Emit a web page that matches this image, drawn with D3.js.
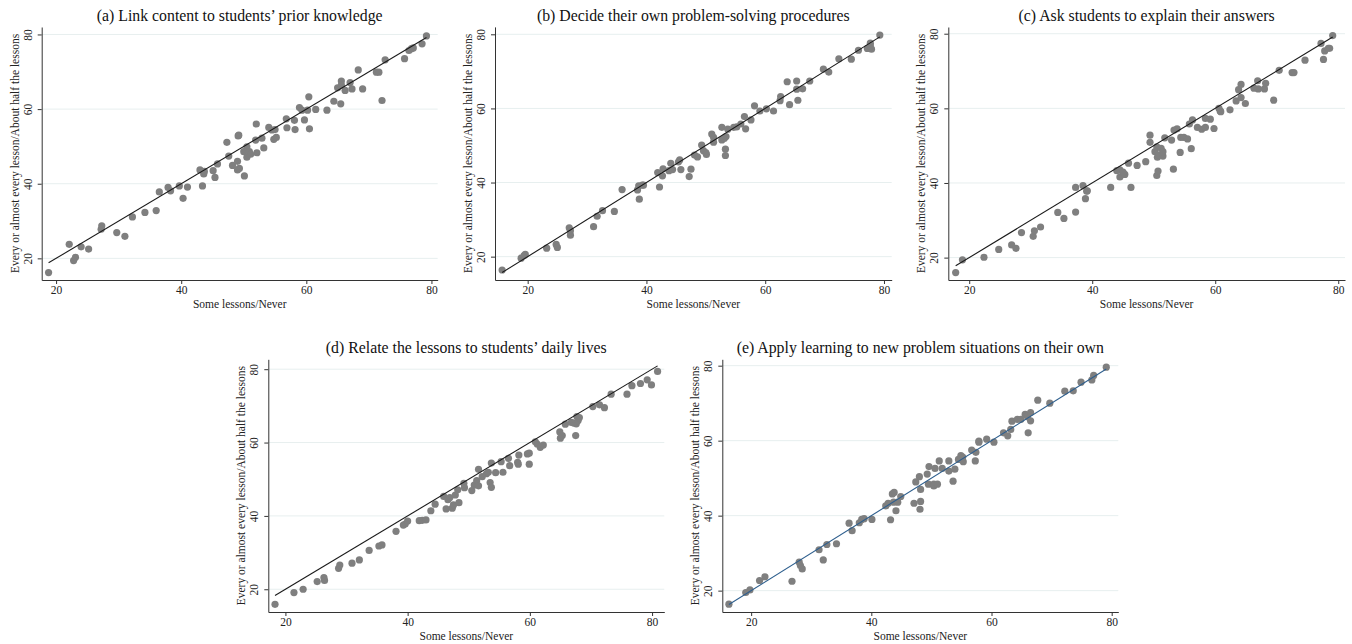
<!DOCTYPE html>
<html>
<head>
<meta charset="utf-8">
<script src="https://cdn.jsdelivr.net/npm/d3@7"></script>
<style>
  body { margin: 0; background: #fff; }
  svg { display: block; font-family: "Liberation Serif", "DejaVu Serif", serif; }
  .tick text { fill: #222; }
</style>
</head>
<body>
<svg id="chart" width="1352" height="644"></svg>
<script>
// panel titles and axis labels
const titles = [
  "(a) Link content to students\u2019 prior knowledge",
  "(b) Decide their own problem-solving procedures",
  "(c) Ask students to explain their answers",
  "(d) Relate the lessons to students\u2019 daily lives",
  "(e) Apply learning to new problem situations on their own"
];
const xLabel = "Some lessons/Never";
const yLabel = "Every or almost every lesson/About half the lessons";
const tickValues = [20, 40, 60, 80];

// (a)
const aX = [18.8,22.1,22.8,23.1,24.0,25.2,27.2,27.3,29.7,31.0,32.2,34.2,36.0,36.5,37.9,38.3,39.7,40.3,41.0,43.0,43.4,43.6,43.7,45.1,45.4,45.8,47.3,47.6,48.2,49.0,49.1,49.2,49.0,49.3,50.0,50.1,50.5,50.5,50.9,51.1,52.0,51.9,52.1,52.9,53.2,54.0,54.5,54.8,55.0,55.2,56.8,56.9,58.1,58.2,58.9,59.3,59.7,60.2,60.4,60.5,61.5,63.3,64.4,65.0,65.5,65.6,65.6,66.2,67.0,67.3,68.3,69.0,71.2,71.6,72.1,72.6,75.7,76.4,76.8,77.1,78.5,79.2];
const aY = [16.2,23.75,19.4,20.3,23.1,22.5,27.8,28.7,26.9,25.9,31.1,32.3,32.8,37.8,39.0,38.1,39.4,36.1,39.1,43.7,39.4,42.6,43.3,43.5,41.7,45.3,51.1,47.4,44.9,46.0,52.8,53.0,43.7,44.1,48.6,42.1,49.9,47.1,48.6,47.9,56.0,51.7,48.3,52.2,49.6,55.1,54.4,51.9,54.5,52.4,57.4,55.0,57.0,54.5,60.4,59.7,57.1,59.7,63.3,54.7,59.9,59.7,62.1,65.7,61.4,67.5,66.4,65.0,67.1,65.4,70.5,65.4,69.9,69.9,62.3,73.2,73.5,75.7,76.2,76.4,77.5,79.6];

// (b)
const bX = [15.7,18.9,19.4,19.6,23.2,24.8,25.0,27.0,27.2,27.2,31.1,31.7,32.6,34.6,35.9,38.5,38.7,39.3,39.5,38.8,41.9,42.2,42.7,42.8,43.8,44.1,44.4,45.4,45.6,45.8,47.2,47.5,48.1,48.6,49.3,49.6,50.0,50.1,51.0,51.3,51.3,52.7,52.7,53.1,53.4,53.3,53.3,53.7,54.7,55.2,55.9,56.5,56.7,57.6,58.2,59.1,60.2,61.4,62.5,62.6,63.7,64.1,65.3,65.3,65.5,66.3,67.5,69.8,70.7,72.4,74.5,75.7,77.2,77.7,77.9,77.7,79.3];
const bY = [16.4,19.6,20.3,20.6,22.3,23.3,22.5,27.8,27.0,25.8,28.1,30.9,32.4,32.2,38.1,38.0,39.1,39.3,39.3,35.5,42.7,38.8,41.8,43.7,43.2,45.2,43.5,45.6,46.1,43.5,41.6,43.6,47.4,46.9,50.1,48.6,48.1,47.6,53.1,52.2,50.9,54.9,51.5,51.9,52.4,49.0,47.3,54.4,54.9,55.0,55.8,57.8,54.5,56.9,60.7,59.3,59.9,59.3,62.1,63.2,67.2,61.0,67.4,65.2,62.2,65.3,67.4,70.6,69.8,73.4,73.3,75.7,76.2,77.6,76.0,76.9,79.8];

// (c)
const cX = [17.8,18.9,22.4,24.8,26.9,27.6,28.5,30.4,30.6,31.6,34.4,35.4,37.3,37.3,38.5,38.9,39.1,39.2,43.0,44.0,44.5,44.5,45.3,45.0,45.9,46.3,47.3,48.7,49.4,49.4,50.2,50.5,50.6,50.8,51.2,51.5,51.5,50.5,50.7,51.8,52.9,53.3,53.8,53.2,54.3,54.4,54.9,55.5,55.8,56.3,56.1,57.1,57.8,58.4,58.4,59.2,59.8,60.6,60.8,60.9,62.4,63.4,63.8,64.2,64.2,64.9,66.3,66.9,67.0,68.0,68.2,69.5,70.4,72.5,72.8,74.6,77.2,77.6,77.8,78.4,78.6,79.1];
const cY = [16.0,19.4,20.1,22.2,23.4,22.5,26.7,25.7,27.2,28.2,32.1,30.5,38.8,32.2,39.3,35.8,37.8,37.9,38.8,43.3,43.5,41.6,42.3,42.9,45.3,38.8,44.7,45.7,52.8,50.9,48.4,49.7,46.9,47.5,49.3,47.2,48.4,42.0,43.2,52.1,51.5,54.2,54.5,43.7,48.2,52.2,52.2,51.8,55.8,56.9,49.2,54.9,54.4,54.9,57.3,57.1,54.6,60.0,59.3,59.1,59.6,62.0,65.0,66.4,62.9,61.3,65.4,67.4,65.2,65.2,66.7,62.2,70.2,69.6,69.6,72.9,77.4,73.1,75.4,76.1,76.1,79.5];

// (d)
const dX = [18.3,21.4,22.9,25.2,26.3,26.4,28.7,28.9,30.9,32.1,33.7,35.3,35.8,38.1,39.3,39.6,40.0,41.9,42.4,43.0,43.8,44.5,45.9,46.3,46.6,46.9,47.3,47.5,47.8,48.2,48.4,49.2,49.3,50.5,50.9,51.3,51.6,51.6,52.2,52.9,53.2,53.5,53.7,53.7,54.4,55.3,55.6,56.5,56.7,58.0,58.1,58.2,59.6,59.9,59.9,60.9,61.2,61.7,62.2,64.9,65.0,65.3,65.8,66.8,67.2,67.5,67.6,67.7,67.9,68.1,70.3,71.4,72.2,73.3,75.9,76.7,78.1,79.2,79.9,80.9];
const dY = [15.9,19.1,20.0,22.1,23.2,22.4,25.7,26.6,27.1,28.0,30.6,31.8,32.1,35.8,37.5,37.8,38.6,38.7,38.8,38.9,41.4,43.2,45.3,41.9,44.4,45.0,42.1,43.0,45.7,47.1,43.6,48.9,47.7,46.9,48.4,49.6,48.2,52.7,50.7,51.5,51.9,49.1,47.8,54.4,51.8,54.8,51.9,55.7,53.7,54.6,54.1,56.6,56.9,57.1,54.1,60.2,59.6,58.7,59.3,62.9,61.2,61.9,65.0,65.5,65.3,61.9,65.1,67.1,66.0,66.8,69.8,70.3,69.5,73.2,73.2,75.5,76.1,77.1,75.7,79.4];

// (e)
const eX = [16.3,19.1,19.8,21.4,22.3,26.8,28.0,28.2,28.5,31.3,32.0,32.6,34.2,36.3,36.8,38.0,38.4,38.8,40.1,42.4,42.8,43.2,43.5,43.8,43.7,44.1,44.4,44.9,47.1,47.4,48.0,48.2,48.2,48.1,49.3,49.6,49.5,50.4,50.4,51.0,50.6,51.3,51.8,52.9,52.9,53.6,53.9,54.5,54.9,55.3,55.2,56.7,57.4,57.3,57.9,57.9,59.2,60.4,62.0,62.7,63.2,63.4,64.3,64.9,65.6,66.0,66.5,66.5,66.1,67.7,69.7,72.2,73.6,74.9,76.7,77.0,79.1];
const eY = [16.4,19.5,20.2,22.7,23.7,22.5,27.6,26.7,25.8,30.9,28.2,32.3,32.5,38.0,36.0,38.1,39.0,39.2,39.0,42.6,43.3,38.9,45.8,46.2,43.6,41.3,43.6,45.1,43.3,49.0,50.4,47.0,43.8,41.7,51.1,53.1,48.4,48.4,47.9,48.4,52.6,54.6,52.6,54.6,51.9,49.2,52.4,55.0,56.0,54.4,55.6,57.5,56.9,54.6,59.9,59.6,60.4,59.6,62.1,61.3,63.0,65.2,65.7,65.7,67.0,66.4,67.5,65.3,62.1,70.8,70.0,73.2,73.3,75.6,76.2,77.4,79.6];

const panelX = [aX, bX, cX, dX, eX];
const panelY = [aY, bY, cY, dY, eY];

// layout of each plot region (pixels) and axis extents
const layout = [
  {x0: 41.7,  x1: 437.7,  y0: 27,    y1: 280, xd: [17.7, 81.0], yd: [14.2, 82.0], tY: 21,  line: "#1a1a1a"},
  {x0: 495,   x1: 891.7,  y0: 26.9,  y1: 280, xd: [14.5, 81.3], yd: [13.7, 82.0], tY: 21,  line: "#1a1a1a"},
  {x0: 948.3, x1: 1345,   y0: 27,    y1: 280, xd: [16.6, 81.1], yd: [14.0, 81.8], tY: 21,  line: "#1a1a1a"},
  {x0: 268.3, x1: 664.3,  y0: 359.3, y1: 612, xd: [17.2, 82.0], yd: [13.8, 82.7], tY: 353, line: "#1a1a1a"},
  {x0: 722.3, x1: 1118.3, y0: 359.3, y1: 612, xd: [15.2, 81.1], yd: [14.3, 81.7], tY: 353, line: "#2e5f8e"}
];

const svg = d3.select("#chart");

layout.forEach(function(p, i){
  const xs = panelX[i], ys = panelY[i];
  const x = d3.scaleLinear().domain(p.xd).range([p.x0, p.x1]);
  const y = d3.scaleLinear().domain(p.yd).range([p.y1, p.y0]);
  const g = svg.append("g");

  // grid lines
  g.selectAll(".grid").data(tickValues).enter().append("line")
    .attr("x1", p.x0).attr("x2", p.x1)
    .attr("y1", d => y(d)).attr("y2", d => y(d))
    .attr("stroke", "#e7efef").attr("stroke-width", 1);

  // axes
  const xAxis = g.append("g").attr("transform", `translate(0,${p.y1})`)
    .call(d3.axisBottom(x).tickValues(tickValues).tickSize(4).tickPadding(2).tickSizeOuter(0));
  const yAxis = g.append("g").attr("transform", `translate(${p.x0},0)`)
    .call(d3.axisLeft(y).tickValues(tickValues).tickSize(4).tickPadding(2).tickSizeOuter(0));
  [xAxis, yAxis].forEach(function(ax){
    ax.select(".domain").attr("stroke", "#333");
    ax.selectAll(".tick line").attr("stroke", "#333");
    ax.selectAll(".tick text").attr("font-size", 11.5).attr("font-family", "Liberation Serif");
  });
  yAxis.selectAll(".tick text")
    .attr("text-anchor", "middle")
    .attr("dy", 0)
    .attr("x", 0)
    .attr("transform", d => `translate(-10,0) rotate(-90)`);

  // axis titles
  g.append("text")
    .attr("x", (p.x0 + p.x1) / 2).attr("y", p.y1 + 28)
    .attr("text-anchor", "middle").attr("font-size", 11.5).attr("fill", "#222")
    .text(xLabel);
  g.append("text")
    .attr("transform", `translate(${p.x0 - 23},${(p.y0 + p.y1) / 2}) rotate(-90)`)
    .attr("text-anchor", "middle").attr("font-size", 11.5).attr("fill", "#222")
    .text(yLabel);

  // title
  g.append("text")
    .attr("x", (p.x0 + p.x1) / 2).attr("y", p.tY)
    .attr("text-anchor", "middle").attr("font-size", 15.8).attr("fill", "#111")
    .text(titles[i]);

  // points
  g.selectAll(".pt").data(xs).enter().append("circle")
    .attr("cx", (d) => x(d))
    .attr("cy", (d, j) => y(ys[j]))
    .attr("r", 3.6)
    .attr("fill", "#7f7f7f");

  // 45-degree reference line over the data range
  const ext = d3.extent(xs);
  g.append("line")
    .attr("x1", x(ext[0])).attr("y1", y(ext[0]))
    .attr("x2", x(ext[1])).attr("y2", y(ext[1]))
    .attr("stroke", p.line).attr("stroke-width", 1.1);
});
</script>
</body>
</html>
